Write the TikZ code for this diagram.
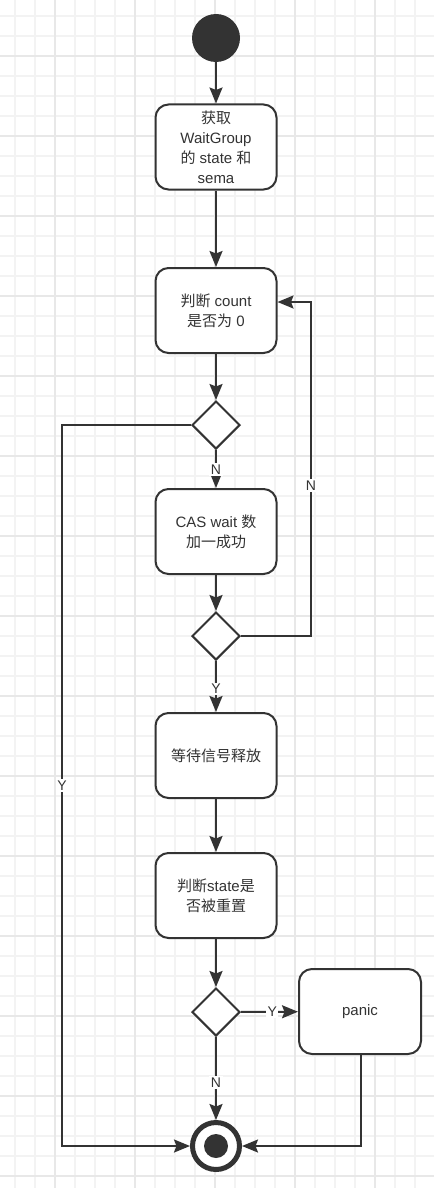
\documentclass[tikz,border=0pt]{standalone}
\usepackage{fontspec}
\setmainfont{Liberation Sans}
\newfontfamily\cjk{Noto Sans CJK SC}
\usetikzlibrary{shapes.geometric,arrows.meta}
\definecolor{dark}{HTML}{333333}
\definecolor{gridthin}{HTML}{F3F3F3}
\definecolor{gridthick}{HTML}{E8E8E8}
\tikzset{
  act/.style={draw=dark, line width=2pt, rounded corners=13pt, minimum width=121pt, minimum height=85pt,
    align=center, fill=white, text=dark, inner sep=2pt, font=\fontsize{15}{20}\selectfont},
  dec/.style={diamond, draw=dark, line width=2pt, minimum width=48pt, minimum height=48pt, inner sep=0pt, fill=white},
  conn/.style={draw=dark, line width=2pt, -{Stealth[length=16pt,width=13pt,inset=2.5pt]}},
  lbl/.style={fill=white, inner sep=1.5pt, text=dark, font=\fontsize{14}{16}\selectfont},
}
\begin{document}
\begin{tikzpicture}[x=1pt,y=-1pt]
\useasboundingbox (0,0) rectangle (434,1188);
\fill[white] (0,0) rectangle (434,1188);
% grid
\foreach \x in {15,35,...,434} \draw[gridthin, line width=1.5pt] (\x,0) -- (\x,1188);
\foreach \y in {16,36,...,1188} \draw[gridthin, line width=1.5pt] (0,\y) -- (434,\y);
\foreach \x in {55,135,...,434} \draw[gridthick, line width=1.5pt] (\x,0) -- (\x,1188);
\foreach \y in {56,136,...,1188} \draw[gridthick, line width=1.5pt] (0,\y) -- (434,\y);

% nodes
\node[circle, fill=dark, minimum size=48pt, inner sep=0pt] (start) at (216,38) {};
\node[act] (b1) at (216,147) {{\cjk 获取}\\WaitGroup\\{\cjk 的} state {\cjk 和}\\sema};
\node[act] (b2) at (216,310.5) {{\cjk 判断} count\\{\cjk 是否为} 0};
\node[dec] (d1) at (216,425) {};
\node[act] (b3) at (216,531.5) {CAS wait {\cjk 数}\\{\cjk 加一成功}};
\node[dec] (d2) at (216,636) {};
\node[act] (b4) at (216,755.5) {{\cjk 等待信号释放}};
\node[act] (b5) at (216,895.5) {{\cjk 判断}state{\cjk 是}\\{\cjk 否被重置}};
\node[dec] (d3) at (216,1012) {};
\node[act, minimum width=122pt] (panic) at (360,1011.5) {panic};
\node[circle, draw=dark, line width=5pt, fill=white, minimum size=47pt, inner sep=0pt] (end) at (216,1146) {};
\node[circle, fill=dark, minimum size=24pt, inner sep=0pt] at (end.center) {};

\coordinate (lc1) at (62,425);
\coordinate (lc2) at (62,1146);
\coordinate (rc1) at (311,636);
\coordinate (rc2) at (311,302);
\coordinate (pc) at (361,1146);

% connectors
\draw[conn] (start) -- (b1);
\draw[conn] (b1) -- (b2);
\draw[conn] (b2) -- (d1);
\draw[conn] (d1) -- node[lbl, pos=0.52] {N} (b3);
\draw[conn] (b3) -- (d2);
\draw[conn] (d2) -- node[lbl, pos=0.55] {Y} (b4);
\draw[conn] (b4) -- (b5);
\draw[conn] (b5) -- (d3);
\draw[conn] (d3) -- node[lbl, pos=0.55] {N} (end);
\draw[conn] (d3) -- node[lbl, pos=0.55] {Y} (panic);
\draw[conn] (d1.west) -- (lc1) -- node[lbl, pos=0.5] {Y} (lc2) -- (end);
\draw[conn] (d2.east) -- (rc1) -- node[lbl, pos=0.45] {N} (rc2) -- (b2.east |- rc2);
\draw[conn] (panic.south -| pc) -- (pc) -- (end);
\end{tikzpicture}
\end{document}
